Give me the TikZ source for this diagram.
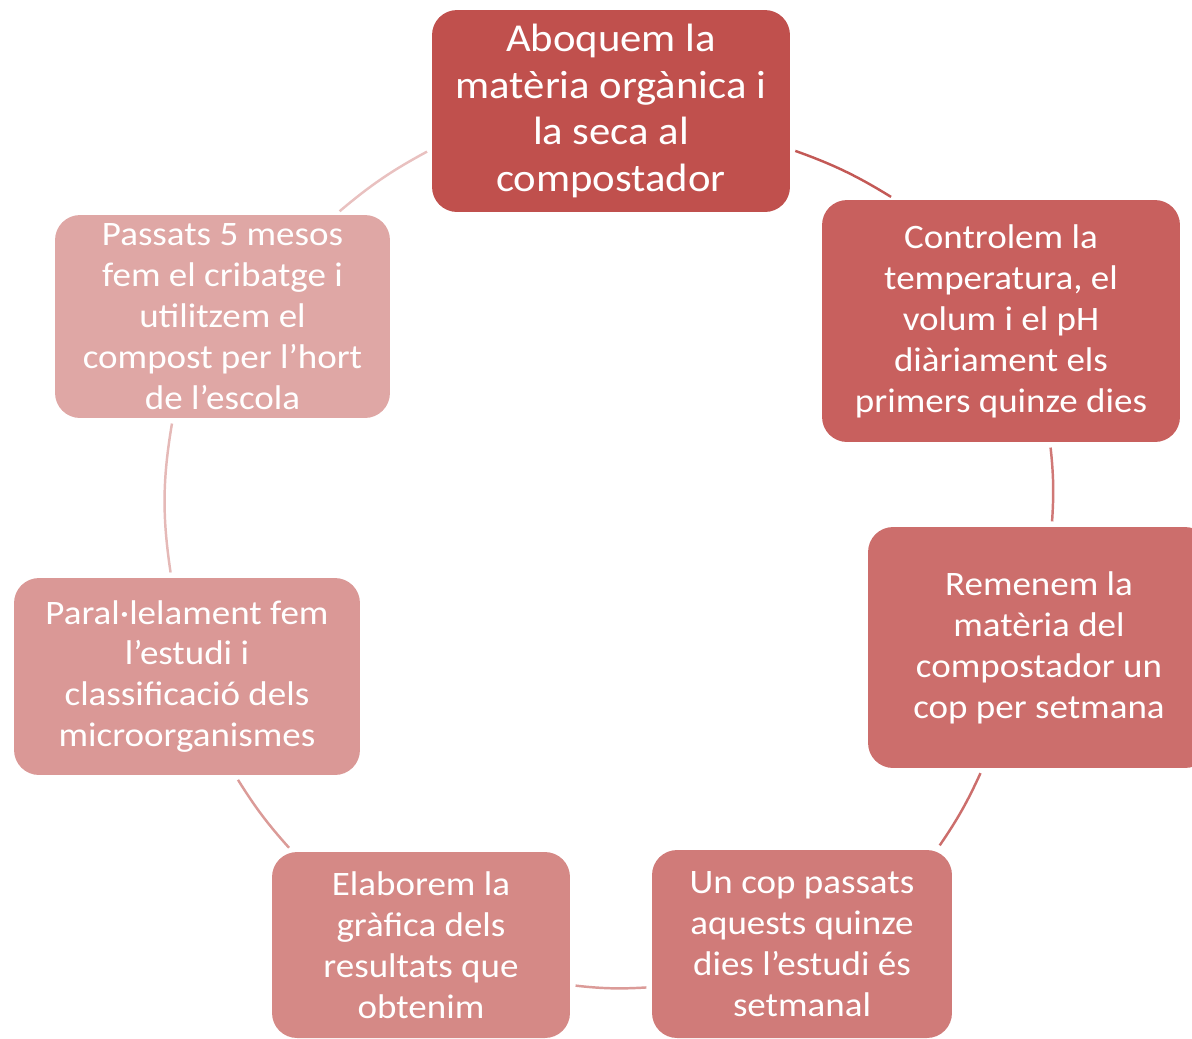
\documentclass[tikz,border=0pt]{standalone}
\usepackage{fontspec}
\setmainfont[FakeStretch=1.08]{Carlito}
\usetikzlibrary{shapes,arrows}
\definecolor{stage1}{HTML}{C0504D}
\definecolor{stage2}{HTML}{C8605E}
\definecolor{stage3}{HTML}{CC6E6C}
\definecolor{stage4}{HTML}{D07B79}
\definecolor{stage5}{HTML}{D58986}
\definecolor{stage6}{HTML}{DA9896}
\definecolor{stage7}{HTML}{DFA7A5}
\tikzstyle{block} = [rectangle, text=white, align=center, rounded corners=0.5cm, inner sep=0pt, font=\fontsize{19.5}{23.3}\selectfont]
\tikzstyle{line} = [draw, line width=1.4pt, shorten >=3pt, shorten <=3pt]

\begin{document}
\begin{tikzpicture}[x=0.02cm,y=0.02cm]
		\useasboundingbox (0,0) rectangle (1192,-1038);
		\node [block, fill=stage1, minimum width=7.16cm, minimum height=4.04cm, font=\fontsize{22.5}{26.7}\selectfont] (pour) at (611,-111) {Aboquem la\\matèria orgànica i\\la seca al\\compostador};
		\node [block, fill=stage2, minimum width=7.16cm, minimum height=4.84cm] (control) at (1001,-321) {Controlem la\\temperatura, el\\volum i el pH\\diàriament els\\primers quinze dies};
		\node [block, fill=stage3, minimum width=6.84cm, minimum height=4.82cm] (stir) at (1039,-647.5) {Remenem la\\matèria del\\compostador un\\cop per setmana};
		\node [block, fill=stage4, minimum width=6.0cm, minimum height=3.76cm] (weekly) at (802,-944) {Un cop passats\\aquests quinze\\dies l’estudi és\\setmanal};
		\node [block, fill=stage5, minimum width=5.96cm, minimum height=3.72cm] (graph) at (421,-945) {Elaborem la\\gràfica dels\\resultats que\\obtenim};
		\node [block, fill=stage6, minimum width=6.92cm, minimum height=3.94cm] (microbes) at (187,-676.5) {Paral·lelament fem\\l’estudi i\\classificació dels\\microorganismes};
		\node [block, fill=stage7, minimum width=6.7cm, minimum height=4.06cm] (sieve) at (222.5,-316.5) {Passats 5 mesos\\fem el cribatge i\\utilitzem el\\compost per l’hort\\de l’escola};

		\path [line, draw=stage1!95!white] (pour.-12.6) to[bend left=6] (control.131.4);
		\path [line, draw=stage2!85!white] (control.-68) to[bend left=5] (stir.84);
		\path [line, draw=stage3] (stir.245) to[bend left=5] (weekly.35);
		\path [line, draw=stage5!85!white] (weekly.196) to[bend left=5] (graph.-15.7);
		\path [line, draw=stage5!85!white] (graph.144.6) to[bend left=5] (microbes.-64);
		\path [line, draw=stage7!80!white] (microbes.99.8) to[bend left=9] (sieve.244.5);
		\path [line, draw=stage7!70!white] (sieve.42) to[bend left=6] (pour.192.3);
	\end{tikzpicture}
\end{document}
